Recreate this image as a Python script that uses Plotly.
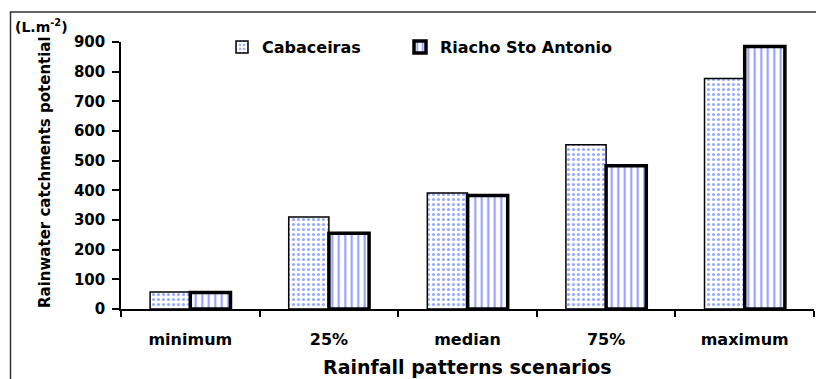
import plotly.graph_objects as go

# Rainwater catchment potential per rainfall scenario (L.m-2)
scenarios = ["minimum", "25%", "median", "75%", "maximum"]
cabaceiras = [57, 310, 391, 554, 777]
riacho = [56, 255, 383, 483, 885]

y_ticks = [0, 100, 200, 300, 400, 500, 600, 700, 800, 900]

FONT = "DejaVu Sans"
W, H = 816, 379
L, R, T, B = 121, 2, 42, 70

fig = go.Figure()

fig.add_trace(go.Bar(
    name="Cabaceiras",
    x=scenarios,
    y=cabaceiras,
    legend="legend",
    marker=dict(
        color="white",
        line=dict(color="black", width=1.5),
        pattern=dict(shape=".", fgcolor="#2f55ff", bgcolor="white",
                     size=5, solidity=0.3, fillmode="overlay"),
    ),
))

fig.add_trace(go.Bar(
    name="Riacho Sto Antonio",
    x=scenarios,
    y=riacho,
    legend="legend2",
    marker=dict(
        color="white",
        line=dict(color="black", width=3.5),
        pattern=dict(shape="|", fgcolor="#1a2dff", bgcolor="white",
                     size=6.5, solidity=0.3, fillmode="overlay"),
    ),
))

plot_w = W - L - R
plot_h = H - T - B


def px_to_paper_x(px):
    return (px - L) / plot_w


def px_to_paper_y(py):
    return (H - B - py) / plot_h


def legend_box(px_left):
    return dict(
        orientation="h",
        x=px_to_paper_x(px_left),
        y=px_to_paper_y(47),
        xanchor="left",
        yanchor="middle",
        bgcolor="rgba(0,0,0,0)",
        font=dict(family=FONT, size=16, color="black", weight="bold"),
        itemwidth=30,
    )


fig.update_layout(
    width=W,
    height=H,
    margin=dict(l=L, r=R, t=T, b=B, pad=0),
    paper_bgcolor="white",
    plot_bgcolor="white",
    font=dict(family=FONT, size=15, color="black", weight="bold"),
    barmode="group",
    bargap=0.42,
    bargroupgap=0.0,
    showlegend=True,
    legend=legend_box(222),
    legend2=legend_box(400),
    xaxis=dict(
        type="category",
        categoryorder="array",
        categoryarray=scenarios,
        showline=True,
        linecolor="black",
        linewidth=1.5,
        ticks="outside",
        tickson="boundaries",
        ticklen=6,
        tickwidth=1.5,
        tickcolor="black",
        ticklabelstandoff=15,
        tickfont=dict(family=FONT, size=16, color="black", weight="bold"),
        showgrid=False,
        zeroline=False,
    ),
    yaxis=dict(
        range=[0, 900],
        tickvals=y_ticks,
        showline=True,
        linecolor="black",
        linewidth=1.5,
        ticks="outside",
        ticklen=7,
        tickwidth=1.5,
        tickcolor="black",
        ticklabelstandoff=4,
        tickfont=dict(family=FONT, size=15, color="black", weight="bold"),
        showgrid=False,
        zeroline=False,
    ),
    shapes=[
        # frame around the whole chart
        dict(type="rect", xref="paper", yref="paper",
             x0=px_to_paper_x(10.5), x1=px_to_paper_x(830),
             y0=px_to_paper_y(400), y1=px_to_paper_y(12),
             line=dict(color="#333333", width=1.5), fillcolor="rgba(0,0,0,0)",
             layer="above"),
    ],
    annotations=[
        dict(text="(L.m<sup>-2</sup>)", xref="paper", yref="paper",
             x=px_to_paper_x(13), y=px_to_paper_y(26),
             xanchor="left", yanchor="middle", showarrow=False,
             font=dict(family=FONT, size=14, color="black", weight="bold")),
        dict(text="Rainwater catchments potential", xref="paper", yref="paper",
             x=px_to_paper_x(45), y=px_to_paper_y(172),
             xanchor="center", yanchor="middle", textangle=-90, showarrow=False,
             font=dict(family=FONT, size=15, color="black", weight="bold")),
        dict(text="Rainfall patterns scenarios", xref="paper", yref="paper",
             x=px_to_paper_x(467), y=px_to_paper_y(367),
             xanchor="center", yanchor="middle", showarrow=False,
             font=dict(family=FONT, size=19, color="black", weight="bold")),
    ],
)

fig.write_html("out.html")
